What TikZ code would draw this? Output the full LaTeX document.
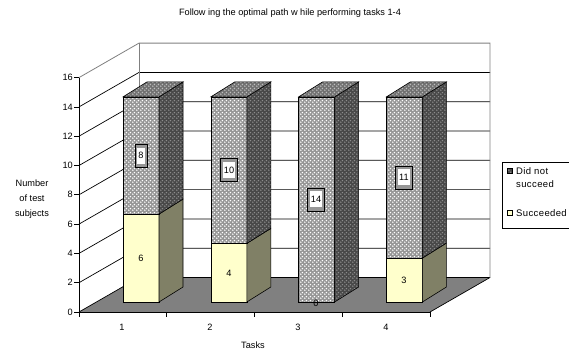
\documentclass[tikz,border=0pt]{standalone}
\usepackage{fontspec}
\setmainfont{Liberation Sans}
\newfontfamily\legfont{Liberation Sans}[LetterSpace=4]
\usetikzlibrary{patterns}
\pgfdeclarepatternformonly{xdots}{\pgfqpoint{0pt}{0pt}}{\pgfqpoint{4pt}{4pt}}{\pgfqpoint{4pt}{4pt}}{%
  \pgfpathcircle{\pgfqpoint{1pt}{1pt}}{1pt}%
  \pgfpathcircle{\pgfqpoint{3pt}{3pt}}{1pt}%
  \pgfusepath{fill}}
\definecolor{floorgray}{RGB}{128,128,128}
\definecolor{sucfront}{RGB}{255,255,204}
\definecolor{sucside}{RGB}{128,128,102}
\definecolor{wallgray}{RGB}{128,128,128}
\definecolor{nfront}{RGB}{150,150,150}
\definecolor{ntop}{RGB}{112,112,112}
\definecolor{nside}{RGB}{72,72,72}
\definecolor{ntopdot}{RGB}{190,190,190}
\definecolor{nsidedot}{RGB}{140,140,140}
\tikzset{
  txt/.style={font=\fontsize{9.2}{11}\selectfont, inner sep=0pt},
  legtxt/.style={font=\legfont\fontsize{9.5}{12}\selectfont, inner sep=0pt, anchor=west},
  grid/.style={black, line width=0.7pt},
  wall/.style={wallgray, line width=0.8pt},
  face/.style={draw=black, line width=0.6pt},
  nfrontp/.style={pattern=xdots, pattern color=white},
  ntopp/.style={pattern=xdots, pattern color=ntopdot},
  nsidep/.style={pattern=xdots, pattern color=nsidedot},
}
\begin{document}
\begin{tikzpicture}[x=1pt,y=-1pt]
\useasboundingbox (0,0) rectangle (569,354);
\clip (0,0) rectangle (569,354);
\fill[white] (0,0) rectangle (569,354);
% title
\node[txt] (title) at (290,13) {Follow ing the optimal path w hile performing tasks 1-4};
% floor
\fill[floorgray] (79,312) -- (430,312) -- (490,277.5) -- (139,277.5) -- cycle;
\draw[black, line width=0.7pt] (430,312) -- (490,277.5);
% gridlines
\foreach \v in {0,2,...,14}{
  \pgfmathsetmacro\yy{312-14.65*\v}
  \draw[grid] (79,\yy) -- (139,\yy-34.5) -- (490,\yy-34.5);
}
% wall outline
\pgfmathsetmacro\ytop{312-14.65*16}
\draw[wall] (79,\ytop) -- (139,\ytop-34.5) -- (490,\ytop-34.5) -- (490,277.5);
\draw[wall] (139,\ytop-34.5) -- (139,277.5);
% bars
\foreach \i/\s in {0/6,1/4,2/0,3/3}{
  \pgfmathsetmacro\xa{123+87.8*\i}
  \pgfmathsetmacro\xb{\xa+36}
  \pgfmathsetmacro\xc{\xa+24}
  \pgfmathsetmacro\xd{\xa+60}
  \pgfmathsetmacro\yb{302-14.65*\s}
  \pgfmathsetmacro\yc{302-14.65*14}
  \ifnum\s>0
    \fill[sucfront] (\xa,302) rectangle (\xb,\yb);
    \draw[face] (\xa,302) rectangle (\xb,\yb);
    \draw[face, fill=sucside] (\xb,302) -- (\xd,287) -- (\xd,\yb-15) -- (\xb,\yb) -- cycle;
  \fi
  \fill[nfront] (\xa,\yb) rectangle (\xb,\yc);
  \fill[nfrontp] (\xa,\yb) rectangle (\xb,\yc);
  \draw[face] (\xa,\yb) rectangle (\xb,\yc);
  \fill[nside] (\xb,\yb) -- (\xd,\yb-15) -- (\xd,\yc-15) -- (\xb,\yc) -- cycle;
  \fill[nsidep] (\xb,\yb) -- (\xd,\yb-15) -- (\xd,\yc-15) -- (\xb,\yc) -- cycle;
  \draw[face] (\xb,\yb) -- (\xd,\yb-15) -- (\xd,\yc-15) -- (\xb,\yc) -- cycle;
  \fill[ntop] (\xa,\yc) -- (\xc,\yc-15) -- (\xd,\yc-15) -- (\xb,\yc) -- cycle;
  \fill[ntopp] (\xa,\yc) -- (\xc,\yc-15) -- (\xd,\yc-15) -- (\xb,\yc) -- cycle;
  \draw[face] (\xa,\yc) -- (\xc,\yc-15) -- (\xd,\yc-15) -- (\xb,\yc) -- cycle;
}
% succeeded labels
\node[txt] (s1) at (141,258) {6};
\node[txt] (s2) at (229,273) {4};
\node[txt] (s3) at (316,303) {0};
\node[txt] (s4) at (404,280) {3};
% not-succeeded labels
\foreach \n/\x/\v/\t in {a/141/10/8, b/229/9/10, c/316/7/14, d/404/8.5/11}{
  \pgfmathsetmacro\yy{302-14.65*\v}
  \node[txt, draw=black, line width=0.6pt, fill=nfront, minimum height=23pt, inner xsep=3.5pt] (ob\n) at (\x,\yy) {\phantom{\t}};
  \node[txt, fill=white, minimum height=16pt, inner xsep=1.2pt] (ib\n) at (\x,\yy) {\t};
}
% axes
\draw[black, line width=0.8pt] (79,312) -- (79,\ytop);
\draw[black, line width=0.8pt] (79,312) -- (430,312);
\foreach \v in {0,2,...,16}{
  \pgfmathsetmacro\yy{312-14.65*\v}
  \draw[black, line width=0.8pt] (74,\yy) -- (79,\yy);
  \node[txt, anchor=east] (yl\v) at (73,\yy) {\v};
}
\foreach \x in {79,166.75,254.5,342.25,430}{
  \draw[black, line width=0.8pt] (\x,312) -- (\x,317);
}
\node[txt] (x1) at (122,327) {1};
\node[txt] (x2) at (210,327) {2};
\node[txt] (x3) at (298,327) {3};
\node[txt] (x4) at (386,327) {4};
\node[txt] (xt) at (253,345) {Tasks};
\node[txt, align=center, font=\fontsize{9.2}{15}\selectfont] (yt) at (32,199) {Number\\of test\\subjects};
% legend
\draw[black, line width=0.7pt] (502,162) rectangle (585,228);
\fill[nside] (507,168.5) rectangle (512,173.5);
\fill[nsidep] (507,168.5) rectangle (512,173.5);
\draw[black, line width=0.6pt] (507,168.5) rectangle (512,173.5);
\draw[black, line width=0.6pt, fill=sucfront] (507,210.5) rectangle (512,215.5);
\node[legtxt] (l1) at (516,171) {Did not};
\node[legtxt] (l2) at (516,184) {succeed};
\node[legtxt] (l3) at (516,213) {Succeeded};
\end{tikzpicture}
\end{document}
